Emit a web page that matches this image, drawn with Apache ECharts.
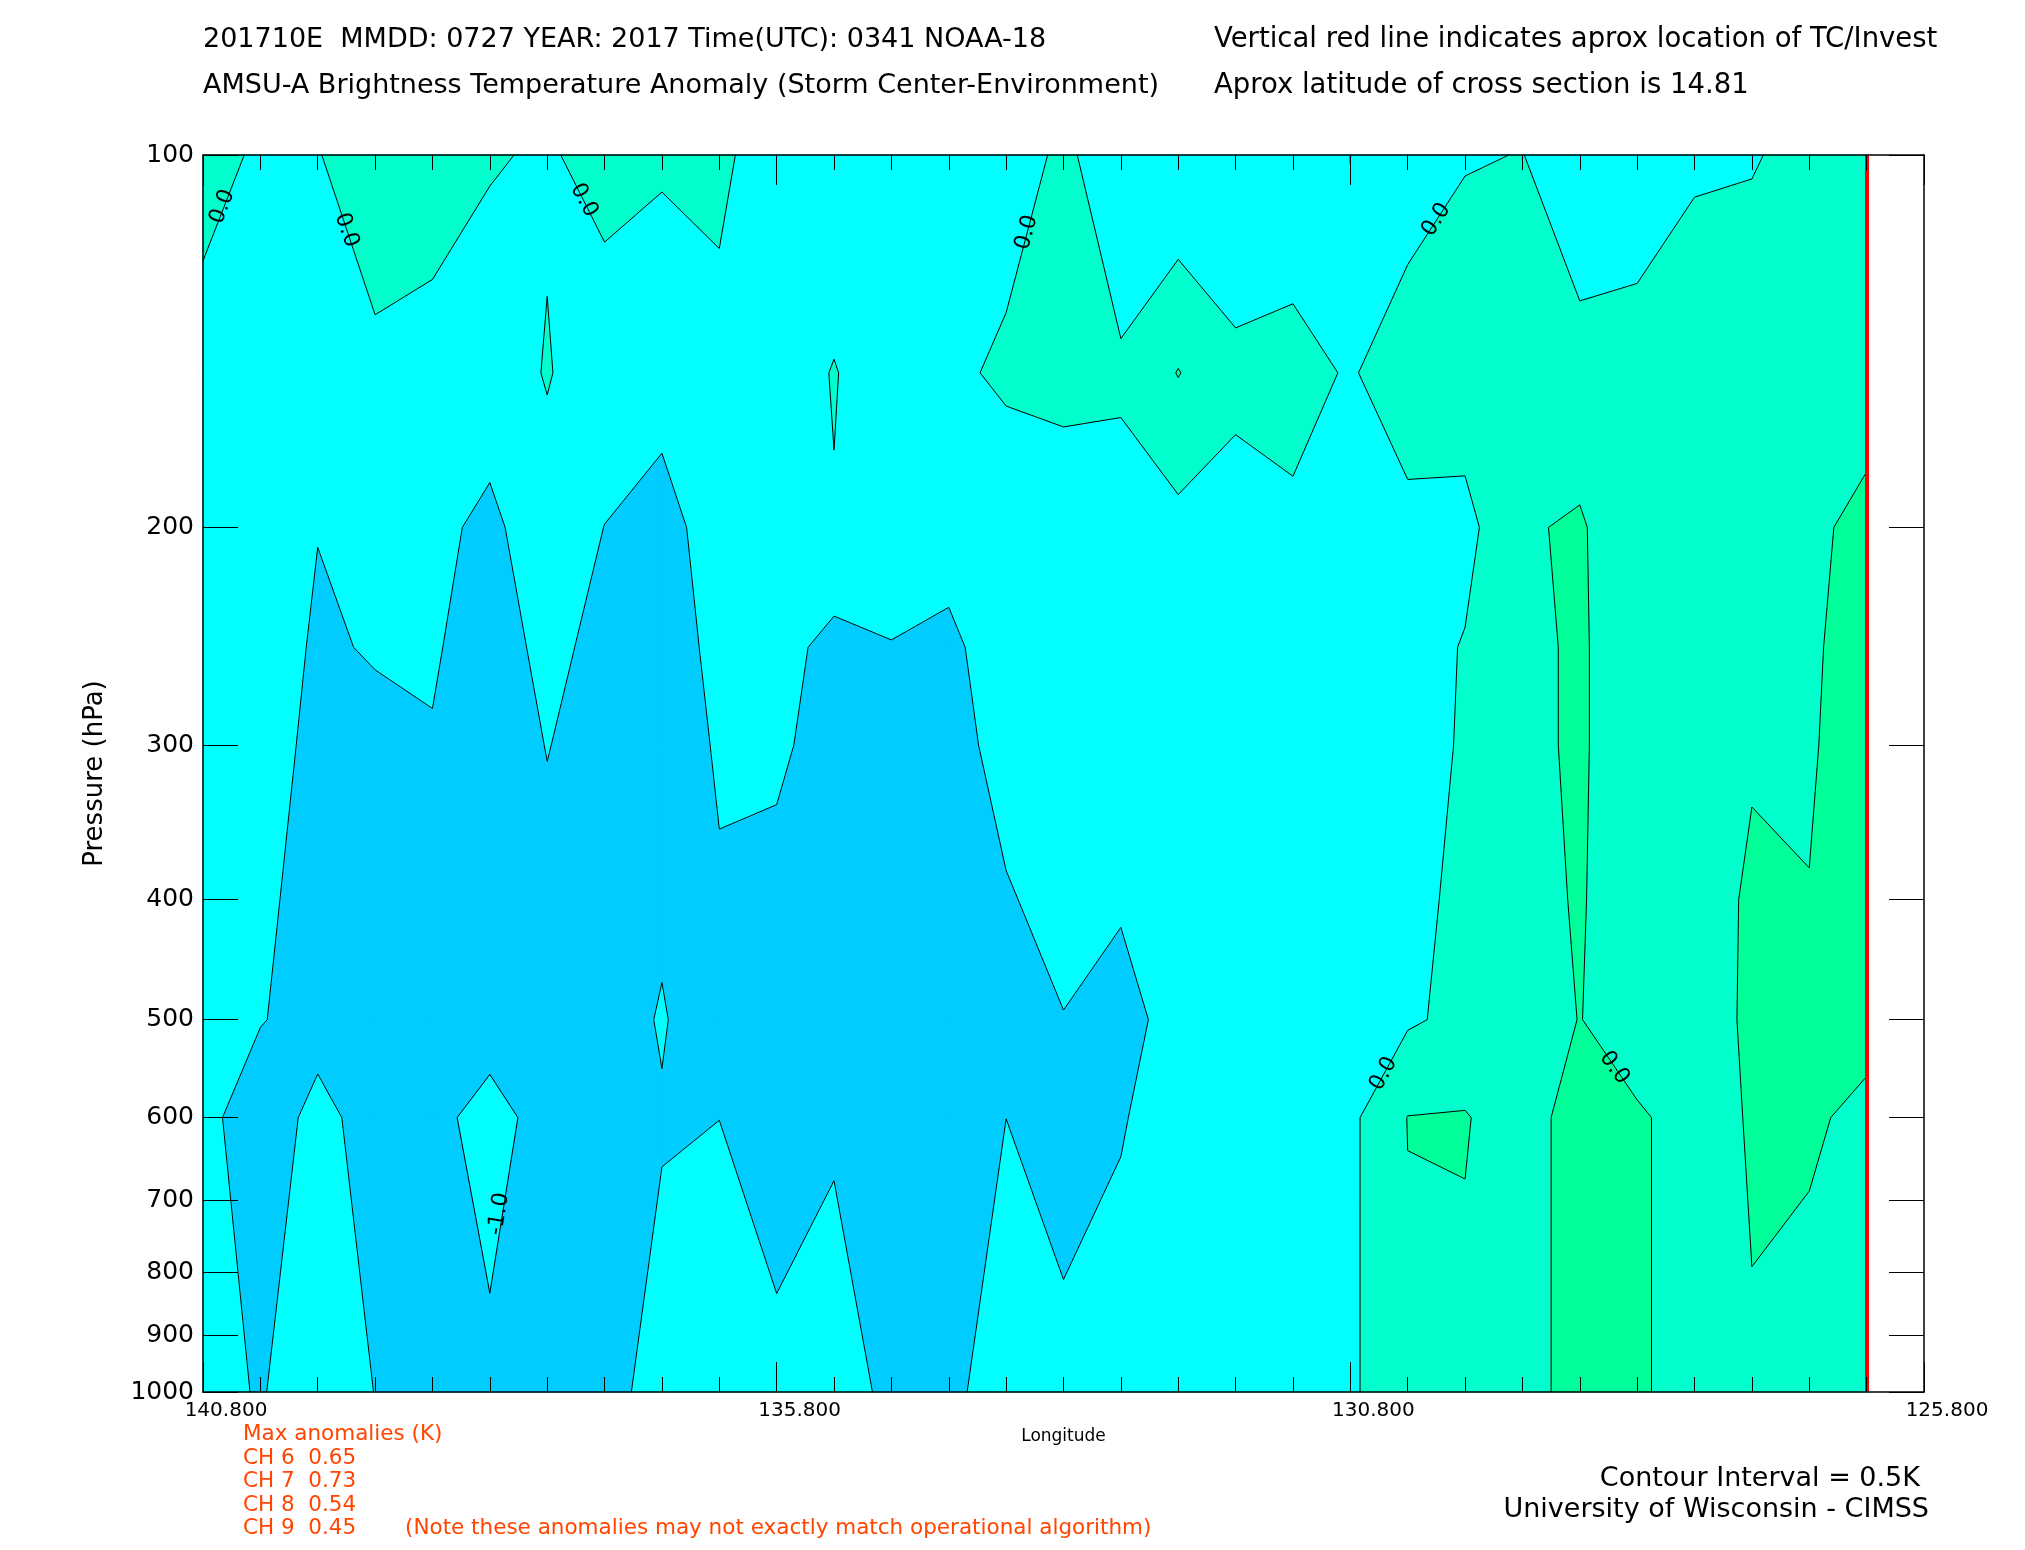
<!DOCTYPE html>
<html>
<head>
<meta charset="utf-8">
<script src="https://cdn.jsdelivr.net/npm/echarts@6/dist/echarts.min.js"></script>
<style>
html,body{margin:0;padding:0;background:#ffffff;}
#c{width:2025px;height:1550px;}
</style>
</head>
<body>
<div id="c"></div>
<script>
// ---------------- DATA ----------------
const longitudes = [140.8,140.3,139.8,139.3,138.8,138.3,137.8,137.3,136.8,136.3,135.8,135.3,134.8,134.3,133.8,
                    133.3,132.8,132.3,131.8,131.3,130.8,130.3,129.8,129.3,128.8,128.3,127.8,127.3,126.8,126.3];
const pressureLevels = [100,150,200,250,300,400,500,600,1000];

// Brightness temperature anomaly (K), one array per pressure level, ordered as longitudes
const anom100  = [0.189,-0.074,-0.023,0.3,0.3,0.027,-0.037,0.12,0.058,0.1,-0.257,-0.45,-0.3,-0.3,-0.262,0.1,-0.317,-0.478,-0.385,-0.388,0.002,-0.304,-0.032,0.01,-0.3,-0.25,-0.06,-0.03,0.12,0.2];
const anom150  = [-0.2,-0.2,-0.2,-0.109,-0.225,-0.162,0.02,-0.18,-0.283,-0.133,-0.3,0.03,-0.345,-0.12,0.1,0.2,0.059,0.52,0.1,0.18,-0.05,0.3,0.3,0.3,0.148,0.174,0.25,0.243,0.3,0.144];
const anom200  = [-0.2,-0.3,-0.49,-0.3,-0.35,-0.638,-0.12,-0.507,-0.7,-0.235,-0.3,-0.03,-0.3,-0.3,-0.365,-0.371,-0.145,-0.14,-0.15,-0.089,-0.2,-0.135,-0.15,0.45,0.56,0.1,0.3,0.35,0.35,0.7];
const anom250  = [-0.2,-0.3,-0.55,-0.47,-0.45,-0.728,-0.372,-0.639,-0.7,-0.392,-0.3,-0.665,-0.513,-0.6,-0.25,-0.3,-0.25,-0.25,-0.25,-0.25,-0.3,-0.2,0.03,0.4,0.56,0.2,0.3,0.4,0.4,0.8];
const anom300  = [-0.25,-0.3,-0.62,-0.6,-0.53,-0.7,-0.489,-0.646,-0.7,-0.462,-0.45,-0.617,-0.7,-0.7,-0.315,-0.3,-0.3,-0.3,-0.3,-0.3,-0.3,-0.2,0.05,0.4,0.56,0.2,0.3,0.46,0.45,0.75];
const anom400  = [-0.25,-0.35,-0.79,-0.75,-0.8,-0.8,-0.594,-0.8,-0.611,-0.532,-0.58,-0.8,-0.8,-0.8,-0.543,-0.338,-0.45,-0.3,-0.3,-0.3,-0.3,-0.15,0.123,0.35,0.54,0.2,0.3,0.56,0.513,0.7];
const anom500  = [-0.25,-0.466,-0.75,-0.8,-0.8,-0.663,-0.8,-0.8,-0.45,-0.9,-0.8,-0.8,-0.85,-0.8,-0.75,-0.514,-0.667,-0.319,-0.3,-0.3,-0.3,-0.063,0.122,0.3,0.51,0.3,0.35,0.553,0.6,0.638];
const anom600  = [-0.3,-0.888,-0.3,-0.776,-0.8,-1.265,-0.724,-0.7,-0.55,-0.502,-0.7,-0.6,-0.8,-0.75,-0.502,-0.7,-0.55,-0.165,-0.2,-0.2,-0.104,0.51,0.53,0.25,0.75,0.544,0.368,0.525,0.56,0.4];
const anom1000 = [-0.3,-0.544,-0.144,-0.51,-0.75,-0.851,-0.75,-0.7,-0.272,-0.3,-0.388,-0.165,-0.665,-0.7,-0.075,-0.361,-0.2,-0.2,-0.2,-0.2,-0.087,0.427,0.396,0.25,0.75,0.6,0.2,0.479,0.336,0.3];

const contourLevels = [-1.0, -0.5, 0.0, 0.5];
const tcLongitude = 126.3;

const xTickValues = [140.8, 135.8, 130.8, 125.8];
const yTickValues = [100,200,300,400,500,600,700,800,900,1000];

// contour label anchors
const contourLabelLon  = [140.63, 139.55, 137.48, 133.62, 130.05, 130.51, 128.50, 138.22];
const contourLabelP    = [110.1, 115.0, 108.8, 115.5, 112.8, 553, 547, 718];
const contourLabelText = ['0.0','0.0','0.0','0.0','0.0','0.0','0.0','-1.0'];

const maxAnomalyChannels = ['CH 6','CH 7','CH 8','CH 9'];
const maxAnomalyValues   = ['0.65','0.73','0.54','0.45'];

// ---------------- STYLE ----------------
const FONT = "'DejaVu Sans', 'Liberation Sans', sans-serif";
const bandStyles = [
  {lo: -Infinity, hi: -1.0, color: '#00ffff'},
  {lo: -1.0, hi: -0.5, color: '#00ccff'},
  {lo: -0.5, hi: 0.0, color: '#00ffff'},
  {lo: 0.0, hi: 0.5, color: '#00ffcc'},
  {lo: 0.5, hi: 1.0, color: '#00ff99'},
  {lo: 1.0, hi: Infinity, color: '#00ff66'}
];
const bandEdges = [-1.0, -0.5, 0.0, 0.5, 1.0];
const contourLabelAngle = [69, -71, -61, 75, 57, 61, -54, 81];

// ---------------- BUILD ----------------
const grid2d = [anom100, anom150, anom200, anom250, anom300, anom400, anom500, anom600, anom1000];
const logP = pressureLevels.map(p => Math.log10(p));

const cells = [];
for (let j = 0; j < pressureLevels.length - 1; j++) {
  for (let i = 0; i < longitudes.length - 1; i++) {
    cells.push([(longitudes[i] + longitudes[i+1]) / 2,
                Math.pow(10, (logP[j] + logP[j+1]) / 2), i, j]);
  }
}

function lerpPt(P, Q, t) { return [P[0] + t * (Q[0] - P[0]), P[1] + t * (Q[1] - P[1])]; }

function crossCount(vals, L) {
  let n = 0;
  for (let k = 0; k < vals.length; k++) {
    const a = vals[k], b = vals[(k+1) % vals.length];
    if ((a < L) !== (b < L)) n++;
  }
  return n;
}

// a cell as one quad, or (saddle) two triangles split along the diagonal joining the connected corners
function cellPieces(i, j) {
  const c = [
    [longitudes[i], logP[j]], [longitudes[i+1], logP[j]],
    [longitudes[i+1], logP[j+1]], [longitudes[i], logP[j+1]]
  ];
  const v = [grid2d[j][i], grid2d[j][i+1], grid2d[j+1][i+1], grid2d[j+1][i]];
  const L = bandEdges.find(e => crossCount(v, e) === 4);
  if (L === undefined) return [{corners: c, vals: v}];
  const avg = (v[0] + v[1] + v[2] + v[3]) / 4;
  const aBelow = v[0] < L;
  const connectBelow = avg < L;
  const splitAC = (connectBelow === aBelow);
  if (splitAC) {
    return [{corners: [c[0], c[1], c[2]], vals: [v[0], v[1], v[2]]},
            {corners: [c[0], c[2], c[3]], vals: [v[0], v[2], v[3]]}];
  }
  return [{corners: [c[0], c[1], c[3]], vals: [v[0], v[1], v[3]]},
          {corners: [c[1], c[2], c[3]], vals: [v[1], v[2], v[3]]}];
}

function bandPolygon(corners, vals, lo, hi) {
  const pts = [];
  const n = corners.length;
  const inBand = x => x >= lo && x < hi;
  for (let k = 0; k < n; k++) {
    const P = corners[k], Q = corners[(k+1) % n];
    const vP = vals[k], vQ = vals[(k+1) % n];
    if (inBand(vP)) pts.push(P);
    const ts = [];
    [lo, hi].forEach(L => {
      if (isFinite(L) && ((vP < L) !== (vQ < L))) ts.push((L - vP) / (vQ - vP));
    });
    ts.sort((a, b) => a - b);
    ts.forEach(t => pts.push(lerpPt(P, Q, t)));
  }
  return pts.length >= 3 ? pts : null;
}

function isoSegments(corners, vals, L) {
  const cr = [];
  const n = corners.length;
  for (let k = 0; k < n; k++) {
    const P = corners[k], Q = corners[(k+1) % n];
    const vP = vals[k], vQ = vals[(k+1) % n];
    if ((vP < L) !== (vQ < L)) cr.push(lerpPt(P, Q, (L - vP) / (vQ - vP)));
  }
  if (cr.length === 2) return [[cr[0], cr[1]]];
  return [];
}

function toPx(api, pt) { return api.coord([pt[0], Math.pow(10, pt[1])]); }

function renderFill(params, api) {
  const pieces = cellPieces(api.value(2), api.value(3));
  const children = [];
  pieces.forEach(pc => {
    bandStyles.forEach(b => {
      const poly = bandPolygon(pc.corners, pc.vals, b.lo, b.hi);
      if (poly) {
        children.push({
          type: 'polygon',
          shape: {points: poly.map(p => toPx(api, p))},
          style: {fill: b.color, stroke: b.color, lineWidth: 1}
        });
      }
    });
  });
  return {type: 'group', children};
}

function renderLines(params, api) {
  const pieces = cellPieces(api.value(2), api.value(3));
  const children = [];
  pieces.forEach(pc => {
    contourLevels.forEach(L => {
      isoSegments(pc.corners, pc.vals, L).forEach(seg => {
        children.push({
          type: 'polyline',
          shape: {points: seg.map(p => toPx(api, p))},
          style: {stroke: '#000000', lineWidth: 1, fill: null}
        });
      });
    });
  });
  return {type: 'group', children};
}

const labelData = contourLabelLon.map((lon, k) => [lon, contourLabelP[k], k]);
function renderLabels(params, api) {
  const k = api.value(2);
  const pt = api.coord([api.value(0), api.value(1)]);
  return {
    type: 'text',
    x: pt[0], y: pt[1],
    rotation: contourLabelAngle[k] * Math.PI / 180,
    style: {
      text: contourLabelText[k], fill: '#000000',
      font: '22px ' + FONT, textAlign: 'center', textVerticalAlign: 'middle'
    }
  };
}

const yTickLogs = yTickValues.map(v => Math.log10(v));

const xAxisCommon = {
  type: 'value', min: 125.8, max: 140.8, interval: 5, inverse: true, z: 10,
  splitLine: {show: false}, minorSplitLine: {show: false},
  axisLine: {show: true, onZero: false, lineStyle: {color: '#000', width: 1.5}},
  axisTick: {show: true, inside: true, length: 30, lineStyle: {color: '#000', width: 1}},
  minorTick: {show: true, splitNumber: 10, length: 15, lineStyle: {color: '#000', width: 1}}
};

const textEls = [];
function addText(text, x, y, size, color, align) {
  textEls.push({
    type: 'text', x: x, y: y, silent: true,
    style: {text: text, fill: color, font: size + 'px ' + FONT,
            textAlign: align || 'left', textVerticalAlign: 'middle'}
  });
}
addText('201710E  MMDD: 0727 YEAR: 2017 Time(UTC): 0341 NOAA-18', 203, 40, 27, '#000');
addText('AMSU-A Brightness Temperature Anomaly (Storm Center-Environment)', 203, 86, 27, '#000');
addText('Vertical red line indicates aprox location of TC/Invest', 1214, 40, 27.5, '#000');
addText('Aprox latitude of cross section is 14.81', 1214, 86, 27.5, '#000');
addText('Max anomalies (K)', 243, 1434, 21.5, '#ff4500');
const chY = [1458, 1481, 1505, 1528];
maxAnomalyChannels.forEach((ch, k) => addText(ch + '  ' + maxAnomalyValues[k], 243, chY[k], 21.5, '#ff4500'));
addText('(Note these anomalies may not exactly match operational algorithm)', 405, 1528, 21.5, '#ff4500');
addText('Contour Interval = 0.5K', 1920, 1479, 27, '#000', 'right');
addText('University of Wisconsin - CIMSS', 1929, 1510, 27, '#000', 'right');

const option = {
  animation: false,
  backgroundColor: '#ffffff',
  grid: {left: 203, right: 101, top: 155, bottom: 158, containLabel: false, outerBoundsMode: 'none'},
  xAxis: [
    Object.assign({}, xAxisCommon, {
      position: 'bottom',
      name: 'Longitude', nameLocation: 'middle', nameGap: 36,
      nameTextStyle: {fontFamily: FONT, fontSize: 17, color: '#000'},
      axisLabel: {show: true, fontFamily: FONT, fontSize: 20, color: '#000', margin: 9,
                  padding: [0, 0, 0, 46],
                  customValues: xTickValues,
                  formatter: v => Number(v).toFixed(3)}
    }),
    Object.assign({}, xAxisCommon, {position: 'top', axisLabel: {show: false}})
  ],
  yAxis: [
    {type: 'log', logBase: 10, min: 100, max: 1000, inverse: true, show: false},
    {type: 'value', min: 2, max: 3, inverse: true, position: 'left', z: 10,
     name: 'Pressure (hPa)', nameLocation: 'middle', nameGap: 95, nameRotate: 90,
     nameTextStyle: {fontFamily: FONT, fontSize: 26, color: '#000'},
     splitLine: {show: false},
     axisLine: {show: true, onZero: false, lineStyle: {color: '#000', width: 1.5}},
     axisTick: {show: true, inside: true, length: 35, customValues: yTickLogs, lineStyle: {color: '#000', width: 1}},
     axisLabel: {show: true, customValues: yTickLogs, fontFamily: FONT, fontSize: 25, color: '#000', margin: 9,
                 formatter: v => String(Math.round(Math.pow(10, v)))}},
    {type: 'value', min: 2, max: 3, inverse: true, position: 'right', z: 10,
     splitLine: {show: false},
     axisLine: {show: true, onZero: false, lineStyle: {color: '#000', width: 1.5}},
     axisTick: {show: true, inside: true, length: 35, customValues: yTickLogs, lineStyle: {color: '#000', width: 1}},
     axisLabel: {show: false}}
  ],
  series: [
    {type: 'custom', name: 'fill', xAxisIndex: 0, yAxisIndex: 0, data: cells,
     encode: {x: 0, y: 1}, renderItem: renderFill, silent: true, z: 2},
    {type: 'custom', name: 'contours', xAxisIndex: 0, yAxisIndex: 0, data: cells,
     encode: {x: 0, y: 1}, renderItem: renderLines, silent: true, z: 3,
     markLine: {silent: true, symbol: 'none', animation: false,
                label: {show: false},
                lineStyle: {color: '#ff0000', width: 4, type: 'solid'},
                data: [{xAxis: tcLongitude}]}},
    {type: 'custom', name: 'labels', xAxisIndex: 0, yAxisIndex: 0, data: labelData,
     encode: {x: 0, y: 1}, renderItem: renderLabels, silent: true, z: 4}
  ],
  graphic: {elements: textEls}
};

const chart = echarts.init(document.getElementById('c'), null, {width: 2025, height: 1550});
chart.setOption(option);
</script>
</body>
</html>
